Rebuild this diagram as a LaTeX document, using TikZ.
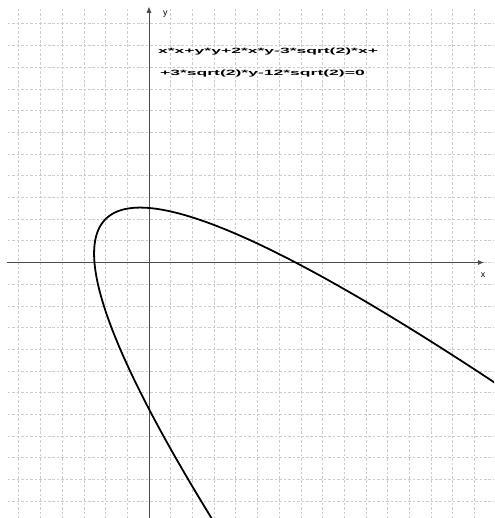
\documentclass[tikz,border=0pt]{standalone}
\usepackage{fontspec}
\setsansfont{Liberation Sans}
\usetikzlibrary{positioning, arrows.meta}
\tikzset{
  gridline/.style = {gray!40, line width=0.5pt, dash pattern=on 2pt off 1.5pt},
  axis/.style     = {-{Latex[length=5pt,width=4pt]}, gray!60!black, line width=0.7pt},
  curve/.style    = {black, line width=1.4pt},
  eqtext/.style   = {anchor=west, inner sep=0pt, font=\sffamily\bfseries\fontsize{6}{7}\selectfont},
  axlabel/.style  = {inner sep=0pt, font=\sffamily\fontsize{7}{8}\selectfont}
}

\begin{document}
\begin{tikzpicture}[x=0.6cm, y=0.6cm]
  \useasboundingbox (-6.866,-11.774) rectangle (15.899,12.097);
  % grid
  \foreach \i in {-6,...,15}
    \draw[gridline] (\i,-11.8) -- (\i,11.75);
  \foreach \j in {-11,...,11}
    \draw[gridline] (-6.5,\j) -- (15.9,\j);
  % axes
  \coordinate (xs) at (-6.55,0);
  \coordinate (xe) at (15.45,0);
  \coordinate (ys) at (0,-11.8);
  \coordinate (ye) at (0,11.8);
  \draw[axis] (xs) -- (xe);
  \draw[axis] (ys) -- (ye);
  \node[axlabel] (xlab) at (15.4,-0.6) {x};
  \node[axlabel] (ylab) at (0.75,11.45) {y};
  % parabola
  \begin{scope}
    \clip (-6.866,-11.774) rectangle (15.899,12.097);
    \draw[curve] plot[domain=-6.8:7.8, samples=220, smooth]
      ({(\x + \x*\x/3 - 2.8284)/1.4142}, {(\x - \x*\x/3 + 2.8284)/1.4142});
  \end{scope}
  % equation
  \node[eqtext] (eq1) at (0.41,9.7) {\scalebox{2.3}[1]{x*x+y*y+2*x*y-3*sqrt(2)*x+}};
  \node[eqtext] (eq2) at (0.50,8.69) {\scalebox{2.3}[1]{+3*sqrt(2)*y-12*sqrt(2)=0}};
\end{tikzpicture}
\end{document}
